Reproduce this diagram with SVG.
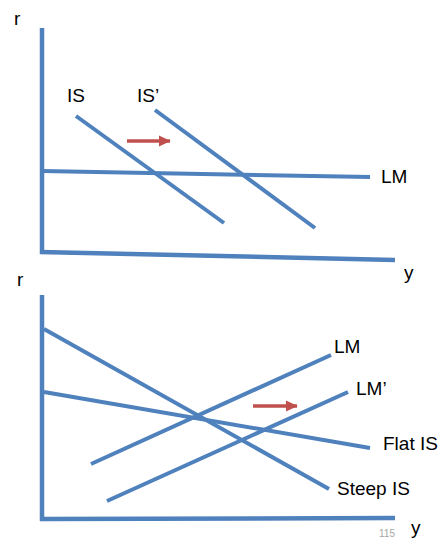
<svg xmlns="http://www.w3.org/2000/svg" width="440" height="541" viewBox="0 0 440 541">
<defs>
<style>
.ln{stroke:#4f81bd;stroke-width:4;fill:none;stroke-linecap:butt}
.ax{stroke:#4f81bd;stroke-width:4.5;fill:none}
.lb{font-family:"Liberation Sans",Arial,sans-serif;font-size:19px;fill:#000}
.ar{stroke:#c0504d;stroke-width:3.5;fill:none}
.pg{font-family:"Liberation Sans",Arial,sans-serif;font-size:10px;fill:#a6a6a6}
</style>
<marker id="ah" markerWidth="4" markerHeight="4" refX="3.2" refY="2" orient="auto" markerUnits="strokeWidth">
<path d="M0,0.4 L3.4,2 L0,3.6 Z" fill="#c0504d"/>
</marker>
</defs>
<rect width="440" height="541" fill="#fff"/>
<g id="axes">
<g id="top-axes">
<line class="ax" x1="42" y1="28" x2="42" y2="254"/>
<line class="ax" x1="40" y1="252" x2="395" y2="260"/>
</g>
<g id="bottom-axes">
<line class="ax" x1="42" y1="295" x2="42" y2="521"/>
<line class="ax" x1="40" y1="519" x2="395" y2="518"/>
</g>
</g>
<g id="connectors">
<line class="ln" x1="42" y1="171" x2="370" y2="177"/>
<line class="ln" x1="76" y1="116" x2="224" y2="223"/>
<line class="ln" x1="155" y1="110" x2="315" y2="228"/>
<line class="ar" x1="127" y1="141" x2="170" y2="141" marker-end="url(#ah)"/>
<line class="ln" x1="44" y1="329" x2="329" y2="489"/>
<line class="ln" x1="44" y1="392" x2="370" y2="448"/>
<line class="ln" x1="91" y1="464" x2="331" y2="355"/>
<line class="ln" x1="107" y1="501" x2="348" y2="392"/>
<line class="ar" x1="253" y1="406" x2="297" y2="406" marker-end="url(#ah)"/>
</g>
<g id="labels">
<text class="lb" x="14" y="25">r</text>
<text class="lb" x="67" y="102">IS</text>
<text class="lb" x="137" y="102">IS’</text>
<text class="lb" x="381" y="183">LM</text>
<text class="lb" x="404" y="279">y</text>
<text class="lb" x="17" y="286">r</text>
<text class="lb" x="334" y="353">LM</text>
<text class="lb" x="356" y="395">LM’</text>
<text class="lb" x="383" y="450">Flat IS</text>
<text class="lb" x="337" y="495">Steep IS</text>
<text class="lb" x="411" y="534">y</text>
<text class="pg" x="379" y="537">115</text>
</g>
</svg>
